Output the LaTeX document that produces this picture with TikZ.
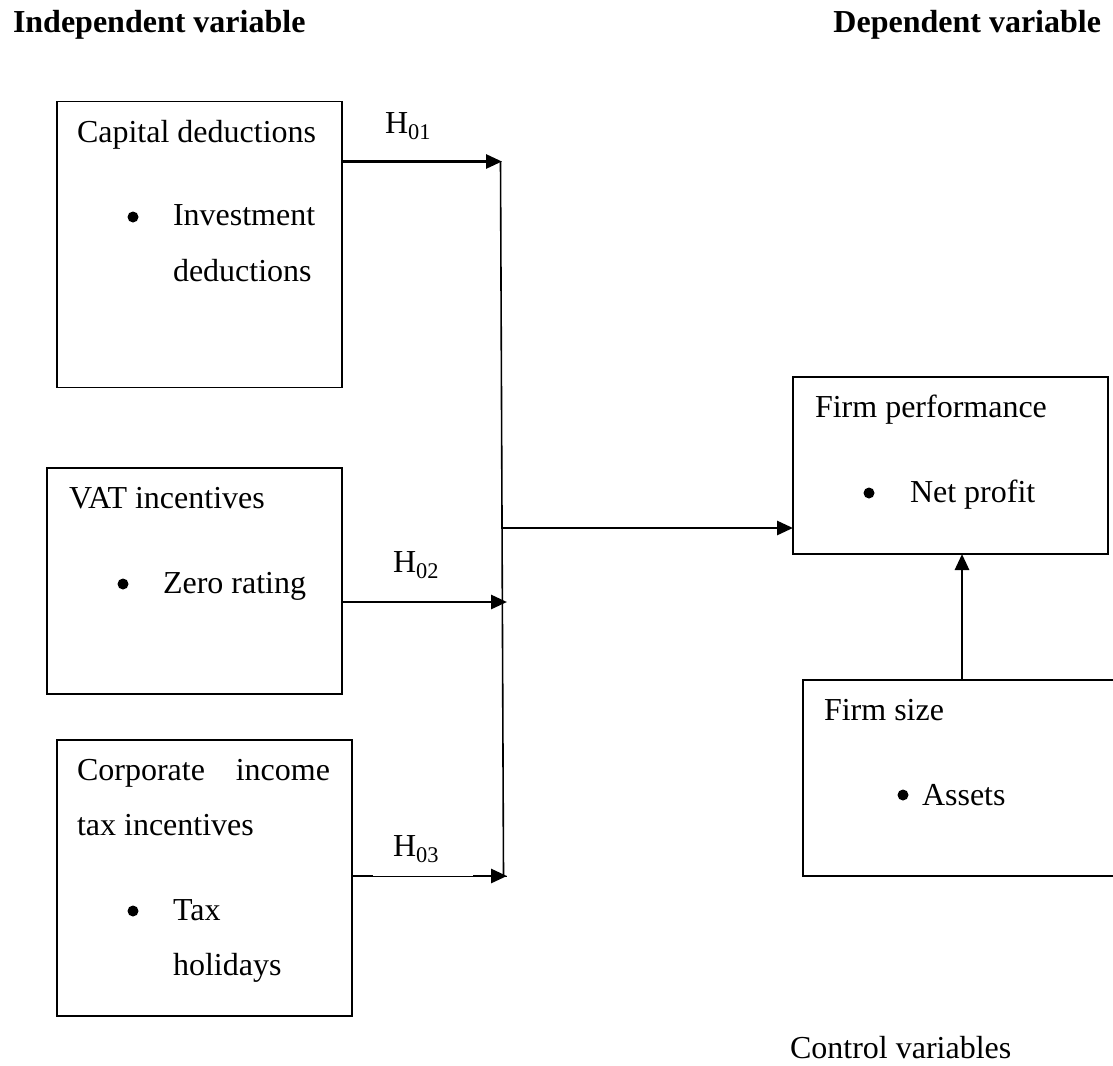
\documentclass[tikz,border=0pt]{standalone}
\usepackage{fontspec}
\setmainfont{Liberation Serif}
\usetikzlibrary{arrows.meta}
\begin{document}
\begin{tikzpicture}[x=1pt,y=-1pt,
  every node/.style={inner sep=0pt, outer sep=0pt},
  txt/.style={anchor=base west, font=\fontsize{32}{38}\selectfont},
  hd/.style={anchor=base west, font=\fontsize{32}{38}\selectfont\bfseries},
  box/.style={draw, line width=1.8pt, anchor=north west},
  bul/.style={circle, fill, minimum size=11pt},
  arr/.style={line width=2.8pt, -{Triangle[length=16pt,width=14pt]}},
  vline/.style={line width=1.6pt}]
\useasboundingbox (0,0) rectangle (1113,1065);
% headers
\node[hd] (hind) at (13,33) {Independent variable};
\node[hd, anchor=base east] (hdep) at (1101,33) {Dependent variable};
% boxes
\node[box, minimum width=285pt, minimum height=286pt] (b1) at (57,101.5) {};
\node[box, minimum width=295pt, minimum height=226pt] (b2) at (47,468) {};
\node[box, minimum width=295pt, minimum height=276pt] (b3) at (57,740) {};
\node[box, minimum width=315pt, minimum height=177pt] (fp) at (793,377) {};
\node[box, minimum width=330pt, minimum height=196pt] (fs) at (803,680) {};
% box 1 text
\node[txt] (t1a) at (77,142) {Capital deductions};
\node[bul] (d1) at (133,217) {};
\node[txt] (t1b) at (173,225) {Investment};
\node[txt] (t1c) at (173,281) {deductions};
% box 2 text
\node[txt] (t2a) at (69,508) {VAT incentives};
\node[bul] (d2) at (123,584) {};
\node[txt] (t2b) at (163,593) {Zero rating};
% box 3 text
\node[txt] (t3a) at (77,780) {Corporate};
\node[txt, anchor=base east] (t3b) at (330,780) {income};
\node[txt] (t3c) at (77,835) {tax incentives};
\node[bul] (d3) at (133,911) {};
\node[txt] (t3d) at (173,920) {Tax};
\node[txt] (t3e) at (173,975) {holidays};
% firm performance
\node[txt] (tfa) at (815,417) {Firm performance};
\node[bul] (d4) at (869,493) {};
\node[txt] (tfb) at (910,502) {Net profit};
% firm size
\node[txt] (tsa) at (824,720) {Firm size};
\node[bul] (d5) at (903,795) {};
\node[txt] (tsb) at (922,805) {Assets};
% control variables
\node[txt] (tcv) at (790,1058) {Control variables};
% hypothesis labels
\node[txt] (h1) at (385,133) {H\textsubscript{01}};
\node[txt] (h2) at (393,572) {H\textsubscript{02}};
\node[txt] (h3) at (393,856) {H\textsubscript{03}};
% junction coordinates
\coordinate (j1) at (502,161.5);
\coordinate (j2) at (507,602);
\coordinate (j3) at (507,876);
\coordinate (vtop) at (500.5,161.5);
\coordinate (vbot) at (503.5,876);
\coordinate (vmid) at (501.5,528);
% connectors
\draw[vline] (vtop) -- (vbot);
\draw[arr] (b1.east |- j1) -- (j1);
\draw[arr] (b2.east |- j2) -- (j2);
\draw[line width=1pt] (b3.east |- j3) -- (j3);
\draw[line width=2.8pt] (b3.east |- j3) -- ++(21,0);
\draw[arr] ([xshift=-34pt]j3) -- (j3);
\draw[arr] (vmid) -- (fp.west |- vmid);
\draw[arr] (fs.north -| 962,0) -- (fp.south -| 962,0);
\end{tikzpicture}
\end{document}
